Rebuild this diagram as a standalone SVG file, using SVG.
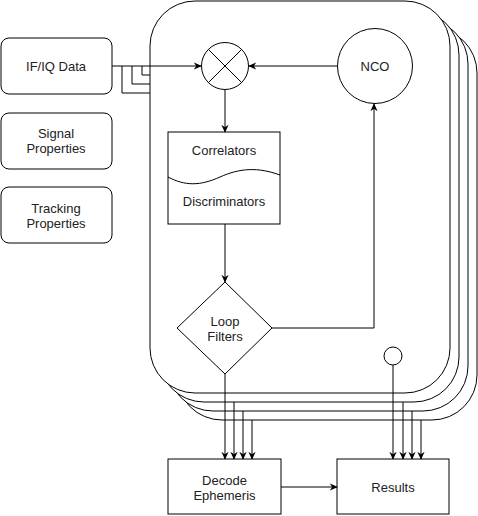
<svg xmlns="http://www.w3.org/2000/svg" width="478" height="516" viewBox="0 0 478 516">
<defs>
<marker id="arr" viewBox="0 0 10 10" refX="9" refY="5" markerWidth="8" markerHeight="8" markerUnits="userSpaceOnUse" orient="auto">
<path d="M0,0.5 L10,5 L0,9.5 L3,5 z" fill="#000" stroke="none"/>
</marker>
</defs>
<style>
.s{fill:#fff;stroke:#000;stroke-width:1}
.e{fill:none;stroke:#000;stroke-width:1}
.ea{fill:none;stroke:#000;stroke-width:1;marker-end:url(#arr)}
text{font-family:"Liberation Sans",Arial,sans-serif;font-size:13px;fill:#222;text-anchor:middle}
</style>
<rect width="478" height="516" fill="#fff"/>
<g id="channel-stack">
<rect class="s" x="177" y="28" width="300" height="392" rx="45" ry="45"/>
<rect class="s" x="168" y="19" width="300" height="392" rx="45" ry="45"/>
<rect class="s" x="159" y="10" width="300" height="392" rx="45" ry="45"/>
<rect class="s" x="150" y="1" width="300" height="392" rx="45" ry="45"/>
</g>
<g id="ifiq">
<rect class="s" x="1" y="38" width="111" height="56" rx="8" ry="8"/>
<text x="56" y="71">IF/IQ Data</text>
</g>
<g id="signal-props">
<rect class="s" x="1" y="113" width="111" height="56" rx="8" ry="8"/>
<text x="56" y="138">Signal</text>
<text x="56" y="153">Properties</text>
</g>
<g id="tracking-props">
<rect class="s" x="1" y="187" width="111" height="56" rx="8" ry="8"/>
<text x="56" y="213">Tracking</text>
<text x="56" y="228">Properties</text>
</g>
<g id="mixer">
<circle class="s" cx="225" cy="66" r="23.5"/>
<path class="e" d="M208.4,49.4 L241.6,82.6 M241.6,49.4 L208.4,82.6"/>
</g>
<g id="nco">
<circle class="s" cx="375" cy="66" r="37.5"/>
<text x="375" y="71">NCO</text>
</g>
<g id="corr-disc">
<rect class="s" x="168" y="132" width="112" height="92"/>
<path class="e" d="M168,177 C185,186 200,186 220,177 C240,168 258,167 280,175"/>
<text x="224" y="155">Correlators</text>
<text x="224" y="206">Discriminators</text>
</g>
<g id="loop-filters">
<polygon class="s" points="225,282 272,328 225,374 177,328"/>
<text x="225" y="326">Loop</text>
<text x="225" y="341">Filters</text>
</g>
<g id="lock-point">
<circle class="s" cx="393" cy="356" r="9"/>
</g>
<g id="decode">
<rect class="s" x="168" y="459" width="113" height="55"/>
<text x="224.5" y="485">Decode</text>
<text x="224.5" y="500">Ephemeris</text>
</g>
<g id="results">
<rect class="s" x="337" y="459" width="112" height="55"/>
<text x="393" y="492">Results</text>
</g>
<g id="connectors">
<path class="ea" d="M112,66 L201,66"/>
<path class="e" d="M122,66 L122,93 L150,93"/>
<path class="e" d="M132,66 L132,84 L150,84"/>
<path class="e" d="M142,66 L142,75 L150,75"/>
<path class="ea" d="M337,66 L249,66"/>
<path class="ea" d="M225,90 L225,132"/>
<path class="ea" d="M225,224 L225,282"/>
<path class="ea" d="M272,328 L374,328 L374,104"/>
<path class="ea" d="M225,374 L225,459"/>
<path class="ea" d="M234,402 L234,459"/>
<path class="ea" d="M243,411 L243,459"/>
<path class="ea" d="M252,420 L252,459"/>
<path class="ea" d="M393,365 L393,459"/>
<path class="ea" d="M403,402 L403,459"/>
<path class="ea" d="M412,411 L412,459"/>
<path class="ea" d="M421,420 L421,459"/>
<path class="ea" d="M281,487 L337,487"/>
</g>
</svg>
